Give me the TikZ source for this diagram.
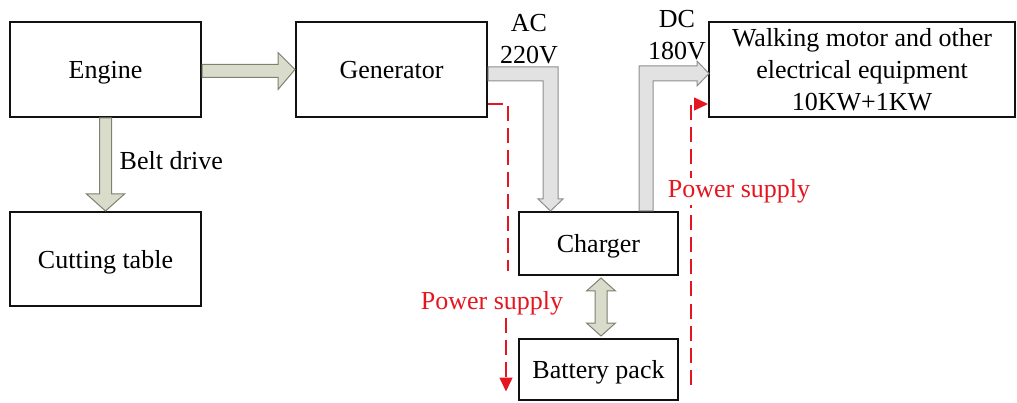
\documentclass[tikz,border=0pt]{standalone}
\usepackage{fontspec}
\setmainfont{Liberation Serif}
\usepackage{tikz}
\usetikzlibrary{arrows.meta,positioning,calc}
\definecolor{ink}{HTML}{111111}
\definecolor{olive}{HTML}{D9DCCB}
\definecolor{oliveline}{HTML}{7E8070}
\definecolor{ash}{HTML}{E2E2E2}
\definecolor{ashline}{HTML}{8E8E8E}
\definecolor{signal}{HTML}{E5161F}
\tikzset{
  unit/.style={rectangle, draw=ink, fill=white, line width=2pt, align=center, inner sep=2pt,
               font=\fontsize{26}{32}\selectfont, text depth=0pt},
  txt/.style={font=\fontsize{26}{32}\selectfont, align=center, inner sep=0pt},
  redtxt/.style={txt, text=signal},
  drive/.style={fill=olive, draw=oliveline, line width=1pt, line join=miter},
  power/.style={fill=ash, draw=ashline, line width=1pt, line join=miter},
  supply/.style={draw=signal, line width=1.5pt, dash pattern=on 15pt off 7pt},
  supplyarrow/.style={supply, -{Triangle[length=14pt, width=13pt]}}
}

\begin{document}
\begin{tikzpicture}[x=1pt, y=-1pt]
  \useasboundingbox (0,0) rectangle (1017,403);
  % units
  \node[unit, minimum width=191pt, minimum height=95pt] (engine) at (105.5,69.5) {Engine};
  \node[unit, minimum width=191pt, minimum height=94pt] (cutting) at (105.5,259) {Cutting table};
  \node[unit, minimum width=191pt, minimum height=95pt] (generator) at (391.5,69.5) {Generator};
  \node[unit, minimum width=306pt, minimum height=95pt, text depth=] (motor) at (862,69.5) {Walking motor and other\\electrical equipment\\10KW+1KW};
  \node[unit, minimum width=159pt, minimum height=63pt] (charger) at (598.5,243.5) {Charger};
  \node[unit, minimum width=159pt, minimum height=61pt] (battery) at (598.5,369.5) {Battery pack};

  % mechanical drives
  \draw[drive] ($(engine.south)+(-6,0)$) -- ($(cutting.north)+(-6,-17)$) -- ($(cutting.north)+(-19,-17)$)
    -- (cutting.north) -- ($(cutting.north)+(19,-17)$) -- ($(cutting.north)+(6,-17)$)
    -- ($(engine.south)+(6,0)$) -- cycle;
  \node[txt, anchor=west] (belt) at ($(engine.south)+(14,43)$) {Belt drive};
  \draw[drive] ($(engine.east)+(0,-5)$) -- ($(generator.west)+(-17,-5)$) -- ($(generator.west)+(-17,-17)$)
    -- (generator.west) -- ($(generator.west)+(-17,20)$) -- ($(generator.west)+(-17,8)$)
    -- ($(engine.east)+(0,8)$) -- cycle;
  \draw[drive] ($(charger.south)+(2.5,2)$) -- ($(charger.south)+(17,15)$) -- ($(charger.south)+(8.5,15)$)
    -- ($(battery.north)+(8.5,-15)$) -- ($(battery.north)+(17,-15)$) -- ($(battery.north)+(2.5,-2)$)
    -- ($(battery.north)+(-12,-15)$) -- ($(battery.north)+(-3.5,-15)$) -- ($(charger.south)+(-3.5,15)$)
    -- ($(charger.south)+(-12,15)$) -- cycle;

  % electrical power
  \coordinate (actip) at ($(charger.north)+(-48,0)$);
  \draw[power] ($(generator.east)+(0,-2.5)$) -| ($(actip)+(7.5,-12)$) -- ($(actip)+(12.5,-12)$)
    -- (actip) -- ($(actip)+(-12.5,-12)$) -- ($(actip)+(-7.5,-12)$) |- ($(generator.east)+(0,11.5)$) -- cycle;
  \node[txt] (ac) at ($(generator.east)+(41,-30)$) {AC\\220V};
  \coordinate (dctip) at ($(motor.west)+(1,4)$);
  \draw[power] ($(charger.north)+(40.5,0)$) |- ($(dctip)+(-12,-7.5)$) -- ($(dctip)+(-12,-12.5)$)
    -- (dctip) -- ($(dctip)+(-12,12.5)$) -- ($(dctip)+(-12,7.5)$) -| ($(charger.north)+(54.5,0)$) -- cycle;
  \node[txt] (dc) at ($(motor.west)+(-31,-34)$) {DC\\180V};

  % power supply lines
  \draw[supply] ($(generator.east)+(0,34.5)$) -| ($(charger.west)+(-10,28)$);
  \node[redtxt] (supplyleft) at ($(charger.west)+(-26,60)$) {Power supply};
  \draw[supplyarrow] ($(charger.west)+(-12,74)$) -- ($(battery.west)+(-12,22)$);
  \draw[supplyarrow] ($(battery.east)+(12,15)$) |- ($(motor.west)+(0,34.5)$);
  \node[redtxt, fill=white, inner sep=2pt] (supplyright) at ($(charger.east)+(60,-52)$) {Power supply};
\end{tikzpicture}
\end{document}
